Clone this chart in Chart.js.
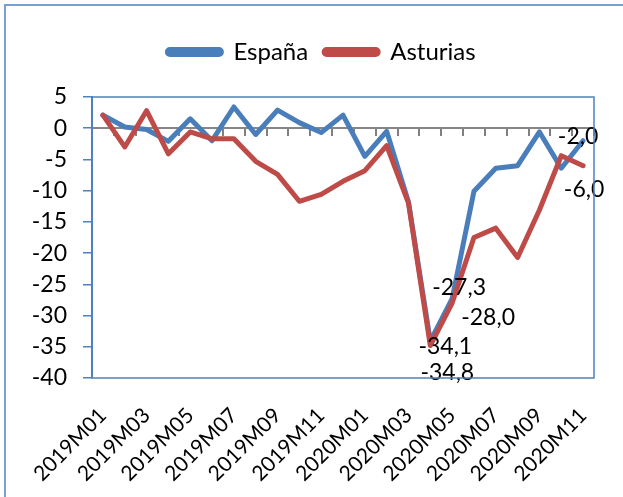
<!DOCTYPE html>
<html>
<head>
<meta charset="utf-8">
<script src="https://cdn.jsdelivr.net/npm/chart.js@4/dist/chart.umd.min.js"></script>
<style>
  html, body { margin: 0; padding: 0; background: #fff; overflow: hidden; }
  #frame { position: absolute; left: 4px; top: 4px; width: 700px; height: 600px; border: 2px solid #7A9FD4; }
  #chart { position: absolute; left: 0; top: 0; }
</style>
</head>
<body>
<div id="frame"></div>
<canvas id="chart" width="623" height="497"></canvas>
<script>
// datos
const months = [
  "2019M01", "2019M02", "2019M03", "2019M04", "2019M05", "2019M06",
  "2019M07", "2019M08", "2019M09", "2019M10", "2019M11", "2019M12",
  "2020M01", "2020M02", "2020M03", "2020M04", "2020M05", "2020M06",
  "2020M07", "2020M08", "2020M09", "2020M10", "2020M11",
];
const espana = [
  2.1, 0.2, -0.2, -2.1, 1.5, -2.0, 3.4, -1.0, 2.9, 0.9, -0.7, 2.1,
  -4.5, -0.5, -11.8, -34.1, -27.3, -10.1, -6.4, -6.0, -0.6, -6.4, -2.0,
];
const asturias = [
  2.1, -3.0, 2.8, -4.1, -0.6, -1.7, -1.7, -5.3, -7.4, -11.7, -10.6, -8.5,
  -6.8, -2.8, -12.0, -34.8, -28.0, -17.5, -16.0, -20.7, -13.1, -4.4, -6.0,
];
const yTicks = [5, 0, -5, -10, -15, -20, -25, -30, -35, -40];

const BLUE = "#4A7EBB";
const RED = "#BE4B48";
const AXIS_BLUE = "#4F81BD";
const FONT = "Lato";

// etiquetas de datos (serie, indice, desplazamiento)
const labelSpots = [
  { ds: 0, i: 15, dx: 15, dy: 5 },
  { ds: 1, i: 15, dx: 17, dy: 27 },
  { ds: 0, i: 16, dx: 7, dy: -11 },
  { ds: 1, i: 16, dx: 36, dy: 15 },
  { ds: 0, i: 22, dx: -5, dy: -4 },
  { ds: 1, i: 22, dx: 1, dy: 24 },
];

const legendGap = {
  id: "legendGap",
  beforeLayout(chart) {
    const lg = chart.legend;
    if (!lg || lg._gapDone) return;
    const fit = lg.fit;
    lg.fit = function () {
      fit.call(this);
      this.height += 23;
    };
    lg._gapDone = true;
  },
};

const plotBox = {
  id: "plotBox",
  afterDraw(chart) {
    const a = chart.chartArea;
    const ctx = chart.ctx;
    ctx.save();
    ctx.strokeStyle = AXIS_BLUE;
    ctx.lineWidth = 1.5;
    ctx.strokeRect(a.left, a.top, a.right - a.left, a.bottom - a.top);
    ctx.restore();
  },
};

const dataLabels = {
  id: "dataLabels",
  afterDatasetsDraw(chart) {
    const ctx = chart.ctx;
    ctx.save();
    ctx.font = "23px " + FONT;
    ctx.fillStyle = "#000";
    ctx.textAlign = "center";
    ctx.textBaseline = "middle";
    for (const s of labelSpots) {
      const pt = chart.getDatasetMeta(s.ds).data[s.i];
      const v = chart.data.datasets[s.ds].data[s.i];
      ctx.fillText(v.toFixed(1).replace(".", ","), pt.x + s.dx, pt.y + s.dy);
    }
    ctx.restore();
  },
};

new Chart(document.getElementById("chart"), {
  type: "line",
  data: {
    labels: months,
    datasets: [
      { label: "España", data: espana, borderColor: BLUE, backgroundColor: BLUE, order: 1 },
      { label: "Asturias", data: asturias, borderColor: RED, backgroundColor: RED, order: 0 },
    ],
  },
  options: {
    responsive: false,
    animation: false,
    layout: { padding: { top: 24, left: 20, right: 0, bottom: 0 } },
    elements: {
      line: { borderWidth: 5, tension: 0, borderJoinStyle: "round", borderCapStyle: "round" },
      point: { radius: 0 },
    },
    scales: {
      x: {
        offset: true,
        grid: { display: false },
        border: { display: false },
        ticks: {
          autoSkip: false,
          minRotation: 45,
          maxRotation: 45,
          padding: 17,
          color: "#000",
          font: { family: FONT, size: 21 },
          callback: (v, i) => (i % 2 === 0 ? months[i] : ""),
        },
        afterFit: (s) => { s.height = 119; },
      },
      xz: {
        type: "category",
        position: { y: 0 },
        offset: true,
        ticks: { display: false },
        grid: { offset: true, drawOnChartArea: false, drawTicks: true, tickLength: 7, color: "#808080", lineWidth: 2 },
        border: { display: true, color: "#868686", width: 2 },
      },
      y: {
        min: -40,
        max: 5,
        afterBuildTicks: (s) => { s.ticks = yTicks.map((v) => ({ value: v })); },
        grid: { drawOnChartArea: false, drawTicks: true, tickLength: 9, color: AXIS_BLUE, lineWidth: 1.5 },
        border: { display: true, color: AXIS_BLUE, width: 2 },
        ticks: { padding: 16, color: "#000", font: { family: FONT, size: 23 } },
        afterFit: (s) => { s.width = 72; },
      },
      yR: {
        position: "right",
        display: true,
        min: -40,
        max: 5,
        grid: { display: false },
        border: { display: false },
        ticks: { display: false },
        afterFit: (s) => { s.width = 29; },
      },
    },
    plugins: {
      tooltip: { enabled: false },
      legend: {
        position: "top",
        labels: {
          sort: (a, b) => a.datasetIndex - b.datasetIndex,
          boxWidth: 54,
          boxHeight: 5,
          useBorderRadius: true,
          borderRadius: 2.5,
          padding: 16,
          color: "#000",
          font: { family: FONT, size: 24 },
        },
      },
    },
  },
  plugins: [legendGap, plotBox, dataLabels],
});
</script>
</body>
</html>
